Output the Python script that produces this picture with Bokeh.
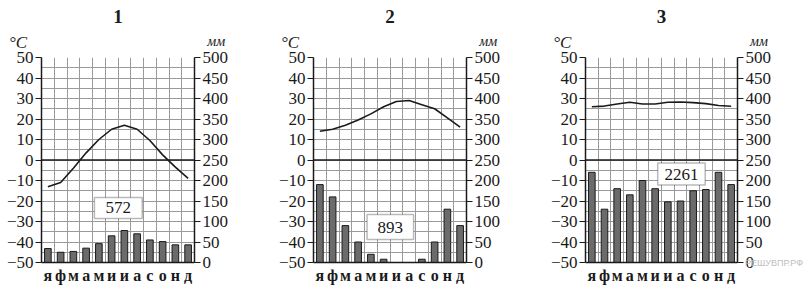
from bokeh.plotting import figure
from bokeh.layouts import row
from bokeh.models import Range1d, LinearAxis, FixedTicker, Span, Label, BoxAnnotation
from bokeh.embed import file_html
from bokeh.resources import INLINE

months = ["я", "ф", "м", "а", "м", "и", "и", "а", "с", "о", "н", "д"]
temp_ticks = [-50, -40, -30, -20, -10, 0, 10, 20, 30, 40, 50]
mm_ticks = [0, 50, 100, 150, 200, 250, 300, 350, 400, 450, 500]

titles = ["1", "2", "3"]
temp1 = [-13, -11, -4, 3.5, 10, 15, 17, 15, 9.5, 2.5, -3.5, -9]
precip1 = [34, 25, 27, 35, 46, 65, 78, 70, 55, 51, 43, 43]
total1 = "572"

temp2 = [14, 15, 17, 19.5, 22.5, 26, 28.5, 29, 27, 25, 20.5, 16]
precip2 = [190, 160, 90, 50, 20, 8, 0, 0, 8, 50, 130, 90]
total2 = "893"

temp3 = [26, 26.3, 27.3, 28.2, 27.3, 27.3, 28.2, 28.3, 28, 27.5, 26.6, 26.2]
precip3 = [220, 130, 180, 165, 200, 180, 148, 150, 175, 178, 220, 190]
total3 = "2261"

SERIF = "Liberation Serif"
INK = "#1a1a1a"


def panel(title, temps, precip, total, box, ml, fw, mr, watermark=False):
    p = figure(width=ml + fw + mr, height=287,
               x_range=Range1d(0, 12), y_range=Range1d(-50, 50),
               output_backend="svg", toolbar_location=None,
               min_border_left=ml, min_border_right=mr,
               min_border_top=57, min_border_bottom=25,
               x_axis_location="below", y_axis_location="left")
    p.outline_line_color = None
    p.background_fill_color = "white"
    p.border_fill_color = "white"
    p.extra_y_ranges = {"mm": Range1d(0, 500)}

    centers = [i + 0.5 for i in range(len(months))]

    # grid
    p.xgrid.ticker = FixedTicker(ticks=list(range(13)))
    p.ygrid.ticker = FixedTicker(ticks=list(range(-50, 55, 5)))
    for g in (p.xgrid, p.ygrid):
        g.grid_line_color = "#9a9a9a"
        g.grid_line_width = 1

    # x axis (months)
    xa = p.xaxis[0]
    xa.ticker = FixedTicker(ticks=centers)
    xa.major_label_overrides = {c: m for c, m in zip(centers, months)}
    xa.major_tick_out = 0
    xa.major_tick_in = 0
    xa.minor_tick_line_color = None
    xa.axis_line_color = INK
    xa.axis_line_width = 1.5
    xa.major_label_text_font = SERIF
    xa.major_label_text_font_style = "bold"
    xa.major_label_text_font_size = "16px"
    xa.major_label_text_color = INK
    xa.major_label_standoff = 4

    # left axis (°C)
    ya = p.yaxis[0]
    ya.ticker = FixedTicker(ticks=temp_ticks)
    ya.major_tick_out = 6
    ya.major_tick_in = 0
    ya.minor_tick_line_color = None
    ya.axis_line_color = INK
    ya.axis_line_width = 1.5
    ya.major_tick_line_color = INK
    ya.major_label_text_font = SERIF
    ya.major_label_text_font_size = "17px"
    ya.major_label_text_color = INK
    ya.major_label_standoff = 2

    # right axis (mm)
    ra = LinearAxis(y_range_name="mm", ticker=FixedTicker(ticks=mm_ticks))
    ra.major_tick_out = 6
    ra.major_tick_in = 0
    ra.minor_tick_line_color = None
    ra.axis_line_color = INK
    ra.axis_line_width = 1.5
    ra.major_tick_line_color = INK
    ra.major_label_text_font = SERIF
    ra.major_label_text_font_size = "17px"
    ra.major_label_text_color = INK
    ra.major_label_standoff = 2
    p.add_layout(ra, "right")

    p.add_layout(Span(location=0, dimension="width", line_color=INK, line_width=1.5))

    p.vbar(x=centers, top=precip, bottom=0, width=0.52, y_range_name="mm",
           fill_color="#6b6b6b", line_color=INK, line_width=1)
    p.line(x=centers, y=temps, line_color=INK, line_width=1.6)

    bl, br, bb, bt = box
    p.add_layout(BoxAnnotation(left=bl, right=br, bottom=bb, top=bt,
                               fill_color="white", fill_alpha=1,
                               line_color=INK, line_width=1.5))
    p.add_layout(Label(x=(bl + br) / 2, y=(bb + bt) / 2, text=total,
                       text_align="center", text_baseline="middle",
                       text_font=SERIF, text_font_size="17px", text_color=INK))

    p.add_layout(Label(x=6, y=70, text=title, text_align="center",
                       text_baseline="middle", text_font=SERIF,
                       text_font_style="bold", text_font_size="19px",
                       text_color=INK), "above")
    p.add_layout(Label(x=-2.55, y=57.3, text="°C", text_align="left",
                       text_baseline="alphabetic", text_font=SERIF,
                       text_font_style="italic", text_font_size="17px",
                       text_color=INK), "above")
    p.add_layout(Label(x=13.7, y=57.8, text="мм", text_align="center",
                       text_baseline="alphabetic", text_font=SERIF,
                       text_font_style="italic", text_font_size="14px",
                       text_color=INK), "right")
    if watermark:
        p.add_layout(Label(x=12.6, y=-50, text="РЕШУВПР.РФ", text_align="left",
                           text_baseline="middle", text_font="Liberation Sans",
                           text_font_size="9px", text_color="#bdbdbd"), "above")
    return p


p1 = panel(titles[0], temp1, precip1, total1, (4.15, 7.9, -28.5, -18.3), 41, 153, 76)
p2 = panel(titles[1], temp2, precip2, total2, (4.2, 7.85, -38.8, -26.6), 43, 153, 76)
p3 = panel(titles[2], temp3, precip3, total3, (5.7, 9.45, -12.2, -1.5), 43, 152, 67, watermark=True)

layout = row(p1, p2, p3, spacing=0)
open("out.html", "w").write(file_html(layout, INLINE))
